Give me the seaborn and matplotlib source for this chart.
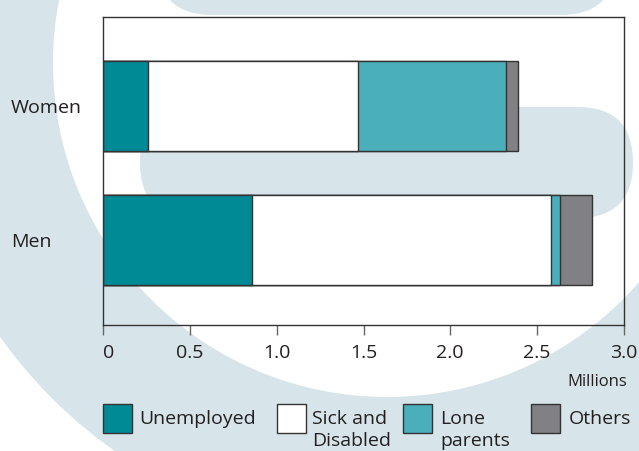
import numpy as np
import pandas as pd
import seaborn as sns
import matplotlib.pyplot as plt
from matplotlib.patches import Wedge, FancyBboxPatch, Rectangle

# data (millions)
groups = ['Women', 'Men']
unemployed = [0.26, 0.86]
sick = [1.21, 1.72]
lone = [0.85, 0.05]
others = [0.07, 0.19]

categories = ['Unemployed', 'Sick and\nDisabled', 'Lone\nparents', 'Others']
colours = ['#008a96', '#ffffff', '#4aaebb', '#808085']
xticks = [0, 0.5, 1.0, 1.5, 2.0, 2.5, 3.0]
xticklabels = ['0', '0.5', '1.0', '1.5', '2.0', '2.5', '3.0']

sns.set_style('white')
plt.rcParams['font.family'] = ['Open Sans', 'DejaVu Sans']
txt = '#231f20'
edge = '#333333'

fig = plt.figure(figsize=(6.39, 4.51), dpi=100)

# background watermark, drawn in pixel coords
bg = fig.add_axes([0, 0, 1, 1], zorder=0)
bg.set_xlim(0, 639)
bg.set_ylim(451, 0)
bg.axis('off')
wm = '#d7e5ea'
bg.add_patch(Wedge((387, 63), 474, 0, 360, width=140, color=wm, lw=0))
bg.add_patch(FancyBboxPatch((140, 107), 493, 111, boxstyle='round,pad=0,rounding_size=55.5',
                            color=wm, lw=0))
bg.add_patch(FancyBboxPatch((157, -96), 459, 111, boxstyle='round,pad=0,rounding_size=55.5',
                            color=wm, lw=0))

# main chart
ax = fig.add_axes([103.3 / 639, 1 - 325 / 451, (623.7 - 103.3) / 639, (325 - 16.7) / 451], zorder=1)
ax.patch.set_alpha(0)

df = pd.DataFrame({'group': groups, 'Unemployed': unemployed, 'Sick': sick,
                   'Lone': lone, 'Others': others})
cum = df[['Unemployed', 'Sick', 'Lone', 'Others']].cumsum(axis=1)

# stacked bars: draw cumulative totals, longest first
for col, c in zip(['Others', 'Lone', 'Sick', 'Unemployed'], colours[::-1]):
    sns.barplot(x=cum[col], y=df['group'], color=c, orient='h', width=0.67,
                saturation=1, edgecolor=edge, linewidth=1.0, ax=ax)

ax.set_xlim(0, 3)
ax.set_ylim(1.637, -0.665)
ax.set_xticks(xticks)
ax.set_xticklabels(xticklabels, fontsize=14, color=txt)
ax.get_xticklabels()[0].set_ha('left')
ax.tick_params(axis='x', bottom=True, length=7.5, width=1.0, color='#666666', pad=6)
ax.tick_params(axis='y', left=False, length=0, pad=66.5, labelsize=14, labelcolor=txt)
for t in ax.get_yticklabels():
    t.set_ha('left')
ax.set_xlabel('')
ax.set_ylabel('')
for s in ax.spines.values():
    s.set_visible(True)
    s.set_color(edge)
    s.set_linewidth(1.0)

fig.text(627 / 639, 1 - 382 / 451, 'Millions', ha='right', va='center', fontsize=12, color=txt)

# legend, laid out by hand
patch_x = [103.3, 277.3, 403.3, 530.7]
text_x = [139, 312, 440, 569]
for px, tx, lab, c in zip(patch_x, text_x, categories, colours):
    bg.add_patch(Rectangle((px, 404.3), 29, 28.4, facecolor=c, edgecolor=edge, lw=1.0, zorder=3))
    bg.text(tx, 410.5, lab, ha='left', va='top', fontsize=14, color=txt, linespacing=1.25, zorder=3)

fig.savefig('out.png', dpi=100)
